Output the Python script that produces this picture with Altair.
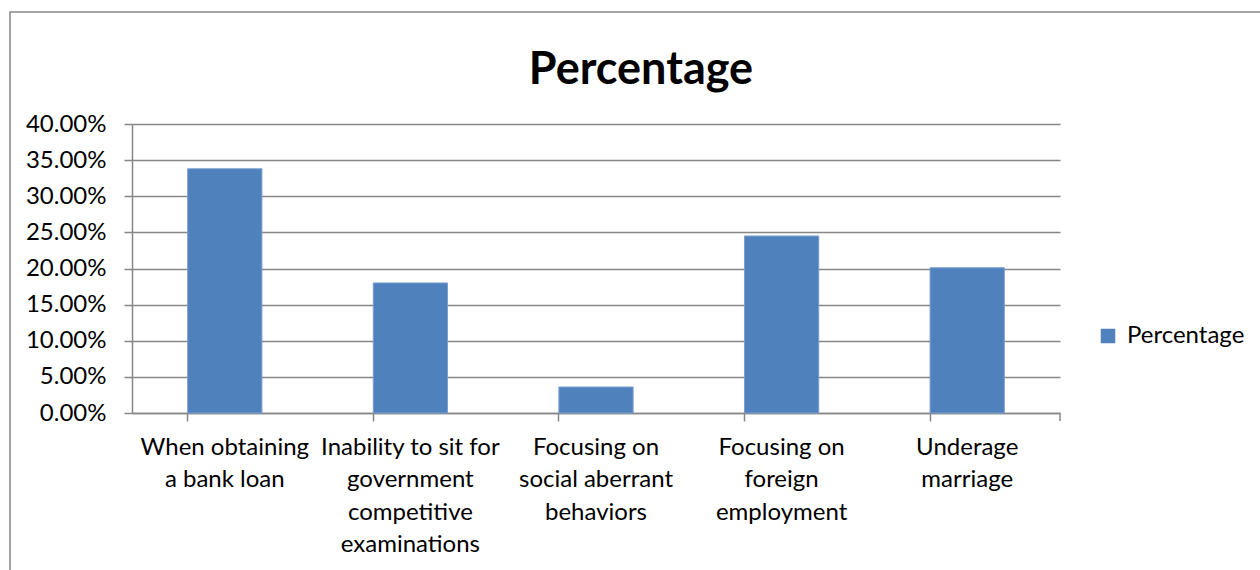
import json
import altair as alt
import pandas as pd

categories = [
    "When obtaining a bank loan",
    "Inability to sit for government competitive examinations",
    "Focusing on social aberrant behaviors",
    "Focusing on foreign employment",
    "Underage marriage",
]
values = [0.338, 0.180, 0.036, 0.245, 0.201]
label_lines = [
    ["When obtaining", "a bank loan"],
    ["Inability to sit for", "government", "competitive", "examinations"],
    ["Focusing on", "social aberrant", "behaviors"],
    ["Focusing on", "foreign", "employment"],
    ["Underage", "marriage"],
]
series_name = "Percentage"
y_ticks = [0, 0.05, 0.10, 0.15, 0.20, 0.25, 0.30, 0.35, 0.40]

df = pd.DataFrame({"category": categories, "value": values, "series": series_name})

expr = "''"
for cat, lines in reversed(list(zip(categories, label_lines))):
    expr = f"datum.value == {json.dumps(cat)} ? {json.dumps(lines)} : ({expr})"

FONT = "Lato"
GRAY = "#878787"
BLUE = "#4F81BD"

bars = alt.Chart(df).mark_bar(color=BLUE, stroke="#7A9FD0", strokeWidth=1).encode(
    x=alt.X(
        "category:N",
        sort=categories,
        title=None,
        scale=alt.Scale(paddingInner=0.6, paddingOuter=0.3),
        axis=alt.Axis(
            labelExpr=expr,
            labelAngle=0,
            labelFont=FONT,
            labelFontSize=24,
            labelColor="#000000",
            labelLineHeight=32.5,
            labelBaseline="top",
            labelPadding=14,
            labelLimit=400,
            labelOverlap=False,
            labelBound=False,
            bandPosition=0,
            tickSize=8,
            tickColor=GRAY,
            tickWidth=1.5,
            domainColor=GRAY,
            domainWidth=1.5,
            grid=False,
        ),
    ),
    y=alt.Y(
        "value:Q",
        title=None,
        scale=alt.Scale(domain=[0, 0.40], nice=False),
        axis=alt.Axis(
            values=y_ticks,
            format=".2%",
            labelFont=FONT,
            labelFontSize=24,
            labelColor="#000000",
            labelPadding=18,
            tickSize=8,
            tickColor=GRAY,
            tickWidth=1.5,
            domainColor=GRAY,
            domainWidth=1.5,
            gridColor=GRAY,
            gridWidth=1.5,
            gridOpacity=1,
        ),
    ),
    color=alt.Color(
        "series:N",
        scale=alt.Scale(domain=[series_name], range=[BLUE]),
        legend=alt.Legend(
            title=None,
            orient="none",
            legendX=964,
            legendY=200,
            symbolType="square",
            symbolSize=210,
            symbolStrokeWidth=0,
            labelFont=FONT,
            labelFontSize=24,
            labelColor="#000000",
            labelOffset=7,
            padding=0,
        ),
    ),
)

end_tick = alt.Chart(alt.Data(values=[{}])).mark_rule(color=GRAY, strokeWidth=1.5).encode(
    x=alt.value(928), y=alt.value(289), y2=alt.value(297)
)

frame = alt.Chart(alt.Data(values=[{}])).mark_rect(
    filled=False, stroke=GRAY, strokeWidth=1.5
).encode(
    x=alt.value(-122), x2=alt.value(1200), y=alt.value(-112), y2=alt.value(480)
)

chart = alt.layer(frame, bars, end_tick).properties(
    width=928,
    height=289,
    padding={"left": 132, "top": 124, "right": 200, "bottom": 157},
    autosize=alt.AutoSizeParams(type="none"),
    background="white",
    title=alt.TitleParams(
        text="Percentage",
        font=FONT,
        fontSize=45,
        fontWeight="bold",
        color="#000000",
        anchor="middle",
        baseline="alphabetic",
        dx=45,
        dy=118,
        offset=0,
    ),
).configure_view(stroke=None)

chart.save("out.html", embed_options={"renderer": "svg", "actions": False})
